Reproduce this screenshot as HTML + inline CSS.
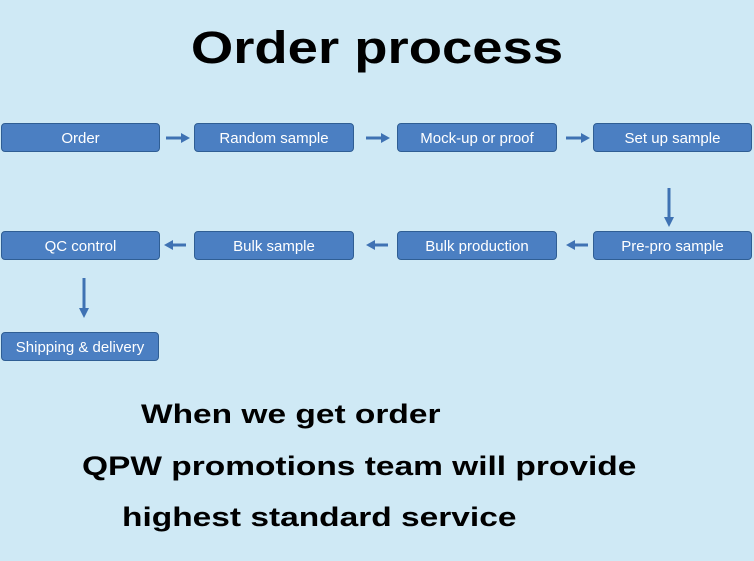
<!DOCTYPE html>
<html><head><style>
body{margin:0;width:754px;height:561px;background:#cfe9f5;position:relative;overflow:hidden;font-family:"Liberation Sans",sans-serif}
.b{position:absolute;height:27px;background:#4b7fc2;border:1.5px solid #2f5e94;border-radius:4px;color:#fff;font-size:15px;line-height:29px;text-align:center;box-sizing:content-box}
.t{position:absolute;font-weight:bold;color:#000;white-space:nowrap;transform-origin:0 0;transform:scaleX(1.24)}
</style></head><body>
<div class="t" style="left:0;width:754px;text-align:center;top:22px;font-size:45px;transform-origin:377px 0;transform:scaleX(1.21)">Order process</div>
<div class="b" style="left:1px;top:123px;width:157px">Order</div>
<div class="b" style="left:194px;top:123px;width:158px">Random sample</div>
<div class="b" style="left:397px;top:123px;width:158px">Mock-up or proof</div>
<div class="b" style="left:593px;top:123px;width:157px">Set up sample</div>
<div class="b" style="left:1px;top:231px;width:157px">QC control</div>
<div class="b" style="left:194px;top:231px;width:158px">Bulk sample</div>
<div class="b" style="left:397px;top:231px;width:158px">Bulk production</div>
<div class="b" style="left:593px;top:231px;width:157px">Pre-pro sample</div>
<div class="b" style="left:1px;top:332px;width:156px">Shipping &amp; delivery</div>
<svg width="754" height="561" style="position:absolute;left:0;top:0">
<g stroke="#3f72b3" stroke-width="3" fill="#3f72b3">
<line x1="166" y1="138" x2="182" y2="138"/><polygon points="181,133 190,138 181,143" stroke="none"/>
<line x1="366" y1="138" x2="382" y2="138"/><polygon points="381,133 390,138 381,143" stroke="none"/>
<line x1="566" y1="138" x2="582" y2="138"/><polygon points="581,133 590,138 581,143" stroke="none"/>
<line x1="669" y1="188" x2="669" y2="218"/><polygon points="664,217 669,227 674,217" stroke="none"/>
<line x1="588" y1="245" x2="574" y2="245"/><polygon points="575,240 566,245 575,250" stroke="none"/>
<line x1="388" y1="245" x2="374" y2="245"/><polygon points="375,240 366,245 375,250" stroke="none"/>
<line x1="186" y1="245" x2="172" y2="245"/><polygon points="173,240 164,245 173,250" stroke="none"/>
<line x1="84" y1="278" x2="84" y2="309"/><polygon points="79,308 84,318 89,308" stroke="none"/>
</g></svg>
<div class="t" style="left:141px;top:399px;font-size:27px">When we get order</div>
<div class="t" style="left:82px;top:451px;font-size:27px">QPW promotions team will provide</div>
<div class="t" style="left:122px;top:502px;font-size:27px">highest standard service</div>
</body></html>
